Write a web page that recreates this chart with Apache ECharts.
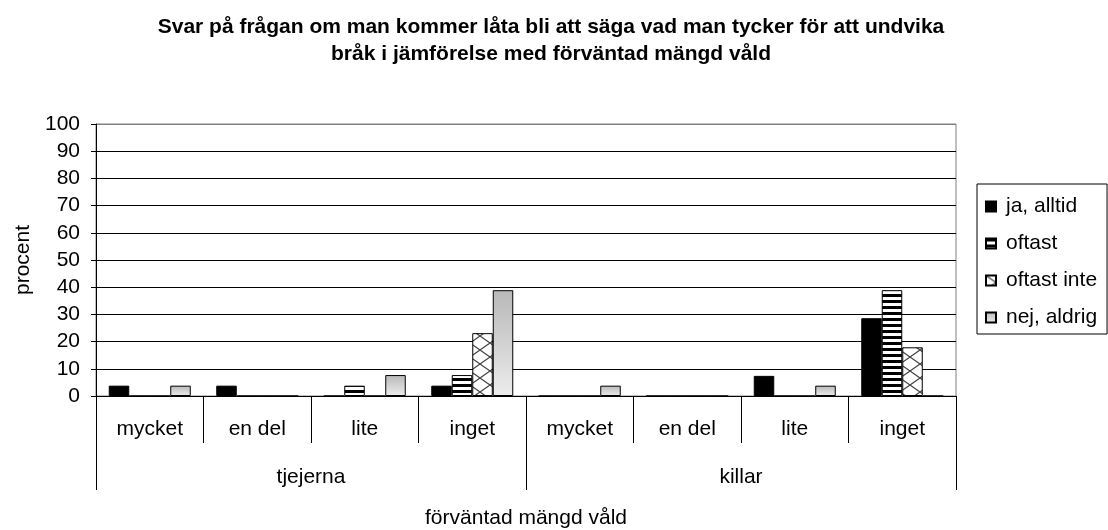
<!DOCTYPE html>
<html>
<head>
<meta charset="utf-8">
<script src="https://cdn.jsdelivr.net/npm/echarts@6/dist/echarts.min.js"></script>
<style>
  html, body { margin: 0; padding: 0; background: #fff; }
  #chart { width: 1108px; height: 530px; }
</style>
</head>
<body>
<div id="chart"></div>
<script>
// kategorier
const levels = ["mycket", "en del", "lite", "inget", "mycket", "en del", "lite", "inget"];
const groups = ["tjejerna", "killar"];
const yTicks = [0, 10, 20, 30, 40, 50, 60, 70, 80, 90, 100];

// procent per svar (tjejerna x4, killar x4)
const jaAlltid   = [3.8, 3.8, 0, 3.8, 0, 0, 7.4, 28.6];
const oftast     = [0, 0, 3.8, 7.7, 0, 0, 0, 38.9];
const oftastInte = [0, 0, 0, 23.1, 0, 0, 0, 17.9];
const nejAldrig  = [3.8, 0, 7.7, 38.9, 3.8, 0, 3.8, 0];

const FONT = "'Liberation Sans', Arial, sans-serif";
const FS = 21;

// mönster som i Excel
const stripes = (() => {
  const c = document.createElement("canvas");
  c.width = 4; c.height = 6;
  const ctx = c.getContext("2d");
  ctx.fillStyle = "#fff"; ctx.fillRect(0, 0, 4, 6);
  ctx.fillStyle = "#000"; ctx.fillRect(0, 0, 4, 3);
  return c;
})();

const crossHatch = (() => {
  const c = document.createElement("canvas");
  c.width = 20; c.height = 14;
  const ctx = c.getContext("2d");
  ctx.fillStyle = "#fff"; ctx.fillRect(0, 0, 20, 14);
  ctx.strokeStyle = "#444"; ctx.lineWidth = 1.2;
  ctx.beginPath();
  ctx.moveTo(0, 0); ctx.lineTo(20, 14);
  ctx.moveTo(20, 0); ctx.lineTo(0, 14);
  ctx.stroke();
  return c;
})();

const grayFill = {
  type: "linear", x: 0, y: 0, x2: 0, y2: 1,
  colorStops: [{ offset: 0, color: "#b8b8b8" }, { offset: 1, color: "#ececec" }]
};

const bar = (name, data, color) => ({
  name,
  type: "bar",
  data,
  barWidth: 20.5,
  barGap: "0%",
  itemStyle: { color, borderColor: "#000", borderWidth: 1 }
});

const chart = echarts.init(document.getElementById("chart"));
chart.setOption({
  animation: false,
  backgroundColor: "#fff",
  textStyle: { fontFamily: FONT, color: "#000" },
  title: {
    text: "Svar på frågan om man kommer låta bli att säga vad man tycker för att undvika\nbråk i jämförelse med förväntad mängd våld",
    left: 546,
    textAlign: "center",
    top: 9,
    textStyle: { fontFamily: FONT, fontSize: FS, fontWeight: "bold", color: "#000", lineHeight: 27 }
  },
  legend: {
    orient: "vertical",
    left: 977,
    top: 184,
    padding: [12, 10, 6, 8],
    itemGap: 16,
    itemWidth: 10,
    itemHeight: 10,
    icon: "rect",
    borderColor: "#000",
    borderWidth: 1,
    textStyle: { fontFamily: FONT, fontSize: FS, color: "#000", padding: [0, 0, 0, 5] }
  },
  grid: {
    left: 96, right: 152, top: 124, bottom: 134,
    outerBoundsMode: "none",
    show: true, borderColor: "#808080", borderWidth: 1
  },
  xAxis: [
    {
      type: "category",
      data: levels,
      position: "bottom",
      axisLine: { lineStyle: { color: "#000", width: 1 } },
      axisTick: { show: true, interval: 0, length: 47, lineStyle: { color: "#000" } },
      axisLabel: { interval: 0, margin: 23, fontSize: FS, color: "#000", fontFamily: FONT }
    },
    {
      type: "category",
      data: groups,
      position: "bottom",
      axisLine: { show: false },
      axisTick: { show: true, interval: 0, length: 94, lineStyle: { color: "#000" } },
      axisLabel: { interval: 0, margin: 71, fontSize: FS, color: "#000", fontFamily: FONT },
      name: "förväntad mängd våld",
      nameLocation: "middle",
      nameGap: 112,
      nameTextStyle: { fontSize: FS, color: "#000", fontFamily: FONT }
    }
  ],
  yAxis: {
    type: "value",
    min: yTicks[0],
    max: yTicks[yTicks.length - 1],
    interval: 10,
    name: "procent",
    nameLocation: "middle",
    nameRotate: 90,
    nameGap: 57,
    nameTextStyle: { fontSize: FS, color: "#000", fontFamily: FONT },
    axisLine: { show: true, lineStyle: { color: "#000" } },
    axisTick: { show: true, length: 5, lineStyle: { color: "#000" } },
    axisLabel: { fontSize: FS, color: "#000", margin: 16, fontFamily: FONT },
    splitLine: {
      show: true,
      lineStyle: { color: ["#000", "#000", "#000", "#000", "#000", "#000", "#000", "#000", "#000", "#000", "#808080"], width: 1 }
    }
  },
  series: [
    bar("ja, alltid", jaAlltid, "#000"),
    bar("oftast", oftast, { image: stripes, repeat: "repeat" }),
    bar("oftast inte", oftastInte, { image: crossHatch, repeat: "repeat" }),
    bar("nej, aldrig", nejAldrig, grayFill)
  ]
});
</script>
</body>
</html>
